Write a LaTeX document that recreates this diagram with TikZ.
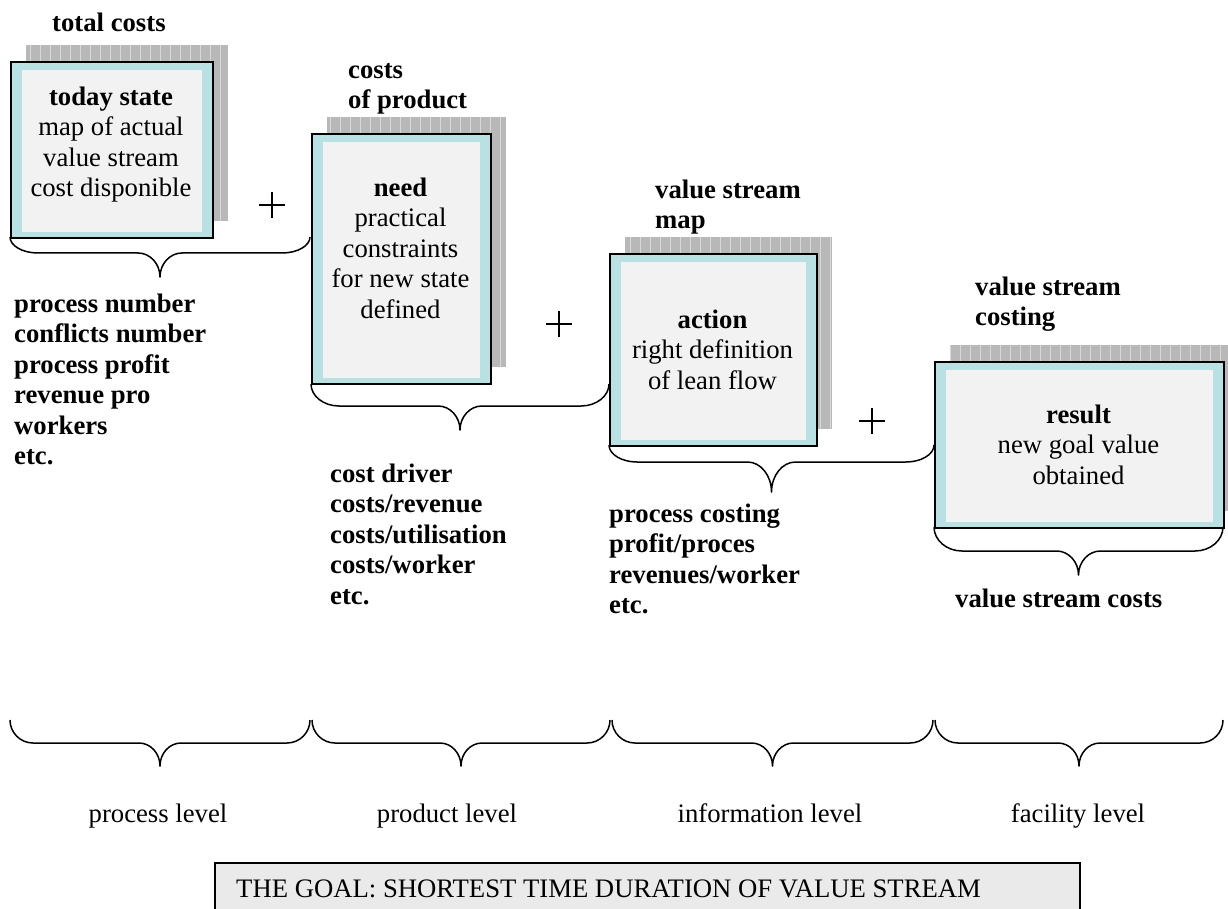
\documentclass[tikz,border=0pt]{standalone}
\usepackage{fontspec}
\setmainfont{Liberation Serif}

\definecolor{boxblue}{RGB}{185,224,227}
\definecolor{innergray}{RGB}{242,242,242}
\definecolor{shadowgray}{RGB}{184,184,184}
\definecolor{shadowline}{RGB}{216,216,216}
\definecolor{goalgray}{RGB}{234,234,234}

% strut that fixes the top of a node at 20pt above its first baseline
\newcommand\firstline{\rule{0pt}{20pt}}

% framed state box with a hatched drop shadow: name, top-left, bottom-right
\newcommand\statebox[5]{%
  \begin{scope}
    \clip ({#2+16},{#3-16}) rectangle ({#4+16},{#5-16});
    \fill[shadowgray] ({#2+16},{#3-16}) rectangle ({#4+16},{#5-16});
    \draw[shadowline, line width=1pt, step=10] ({#2+16},{#3-16}) grid ({#4+16},{#5-16});
  \end{scope}
  \node[outerbox, minimum width={#4-#2}, minimum height={#5-#3}] (#1) at (#2,#3) {};
  \fill[innergray] ([xshift=12pt,yshift=-9pt]#1.north west)
    rectangle ([xshift=-12pt,yshift=7pt]#1.south east);
}

% curly brace opening downwards: left x, right x, end y, bar y, tip y,
% end radius, middle radius
\newcommand\curlybrace[7]{%
  \draw[bracestyle] (#1,#3)
    .. controls (#1,{#3+0.55*(#4-#3)}) and ({#1+0.45*#6},#4) .. ({#1+#6},#4)
    -- ({(#1+#2)/2-#7},#4)
    .. controls ({(#1+#2)/2-0.45*#7},#4) and ({(#1+#2)/2},{#4+0.45*(#5-#4)}) .. ({(#1+#2)/2},#5)
    .. controls ({(#1+#2)/2},{#4+0.45*(#5-#4)}) and ({(#1+#2)/2+0.45*#7},#4) .. ({(#1+#2)/2+#7},#4)
    -- ({#2-#6},#4)
    .. controls ({#2-0.45*#6},#4) and (#2,{#3+0.55*(#4-#3)}) .. (#2,#3);
}

\newcommand\plussign[2]{%
  \draw[plusline] ({#1-13},#2) -- ({#1+13},#2) (#1,{#2-13}) -- (#1,{#2+13});
}

\begin{document}
\begin{tikzpicture}[x=1pt, y=-1pt,
  txt/.style={inner sep=0pt, font=\fontsize{26.7}{30.5}\selectfont},
  lbl/.style={inner sep=0pt, font=\fontsize{26.7}{30.5}\selectfont\bfseries,
    align=left, anchor=north west},
  boxtxt/.style={txt, align=center, anchor=north},
  lvl/.style={txt, anchor=base},
  outerbox/.style={draw=black, line width=2pt, fill=boxblue, inner sep=0pt,
    anchor=north west},
  goalbox/.style={draw=black, line width=2pt, fill=goalgray, inner sep=0pt,
    anchor=north west},
  bracestyle/.style={line width=1.5pt, line join=round},
  plusline/.style={line width=1.3pt},
]
\useasboundingbox (0,0) rectangle (1228,909);
\fill[white] (0,0) rectangle (1228,909);

% the four stages
\statebox{today}{10}{61}{212}{237}
\statebox{need}{311}{133}{490}{383}
\statebox{action}{609}{253}{816}{445}
\statebox{result}{934}{361}{1223}{527}

\node[boxtxt] (todaytext) at (111,85)
  {\firstline\textbf{today state}\\map of actual\\value stream\\cost disponible};
\node[boxtxt] (needtext) at (400.5,176)
  {\firstline\textbf{need}\\practical\\constraints\\for new state\\defined};
\node[boxtxt] (actiontext) at (712.5,308)
  {\firstline\textbf{action}\\right definition\\of lean flow};
\node[boxtxt] (resulttext) at (1078.5,403)
  {\firstline\textbf{result}\\new goal value\\obtained};

% cost headings above the stages
\node[lbl] (totalcosts) at (52,11) {\firstline total costs};
\node[lbl] (productcosts) at (348,58) {\firstline costs\\of product};
\node[lbl] (vsmap) at (655,178) {\firstline value stream\\map};
\node[lbl] (vscosting) at (975,275) {\firstline value stream\\costing};

% plus signs between the stages
\plussign{272}{205}
\plussign{559}{324}
\plussign{872}{421}

% braces under the stages
\curlybrace{10}{310}{237}{253}{277}{28}{22}
\curlybrace{311}{609}{384}{406}{430}{28}{22}
\curlybrace{609}{934}{445}{462}{492}{28}{24}
\curlybrace{934}{1223}{527}{551}{575}{28}{22}

% measures listed under the braces
\node[lbl] (measures1) at (14,292)
  {\firstline process number\\conflicts number\\process profit\\revenue pro\\workers\\etc.};
\node[lbl] (measures2) at (330,462)
  {\firstline cost driver\\costs/revenue\\costs/utilisation\\costs/worker\\etc.};
\node[lbl] (measures3) at (609,502)
  {\firstline process costing\\profit/proces\\revenues/worker\\etc.};
\node[lbl] (vscosts) at (955,587) {\firstline value stream costs};

% level braces
\curlybrace{10}{310}{720}{743}{766}{23}{21}
\curlybrace{312}{610}{720}{743}{766}{23}{21}
\curlybrace{612}{933}{720}{743}{766}{23}{21}
\curlybrace{935}{1223}{720}{743}{766}{23}{21}

\node[lvl] (processlevel) at (158,822) {process level};
\node[lvl] (productlevel) at (447,822) {product level};
\node[lvl] (infolevel) at (770,822) {information level};
\node[lvl] (facilitylevel) at (1078,822) {facility level};

% goal banner
\node[goalbox, minimum width=865, minimum height=80] (goal) at (214,862) {};
\node[txt, anchor=base west] (goaltext) at (236,897)
  {THE GOAL: SHORTEST TIME DURATION OF VALUE STREAM};
\end{tikzpicture}
\end{document}
